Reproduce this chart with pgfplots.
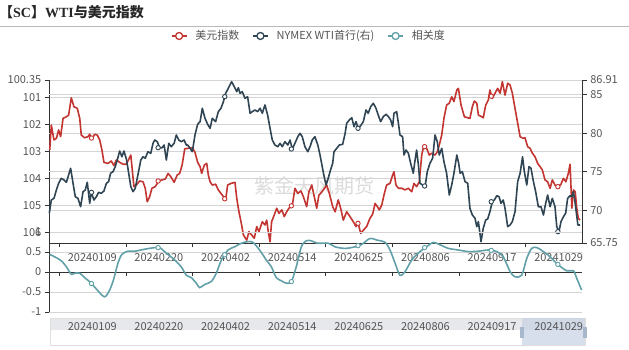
\documentclass[border=0pt]{standalone}
\usepackage{fontspec}
\setmainfont{Noto Sans CJK SC}
\newfontfamily\serifb{Liberation Serif}
\usepackage{pgfplots}
\pgfplotsset{compat=1.18}
\definecolor{cred}{HTML}{C23531}
\definecolor{cdark}{HTML}{2F4554}
\definecolor{cteal}{HTML}{61A0A8}
\definecolor{axisc}{HTML}{333333}
\definecolor{labc}{HTML}{555555}
\definecolor{gridc}{HTML}{D4D4D4}
\definecolor{zoombg}{HTML}{E6E8EC}
\definecolor{zoomsel}{HTML}{C8D2E4}
\definecolor{handlec}{HTML}{A7B7CC}
\pgfplotsset{
  base/.style={scale only axis, width=533pt, xmin=0, xmax=240, clip=false,
    tick label style={font=\fontsize{11}{13}\selectfont, text=labc},
    /pgf/number format/assume math mode=true,
    tick align=outside, major tick length=4.5pt,
    axis line style={axisc, line width=0.8pt},
    every tick/.style={axisc, line width=0.8pt},
    grid style={gridc, line width=0.8pt},
  },
}
\begin{document}
\begin{tikzpicture}
\useasboundingbox (0pt,0pt) rectangle (629pt,350pt);
\node[anchor=west, inner sep=0pt, font=\fontsize{14}{16}\selectfont\bfseries, text=black!85] at (-1pt,337.5pt) {【{\serifb SC}】{\serifb WTI}与美元指数};
\draw[gray!55, line width=0.8pt] (0pt,324pt) -- (629pt,324pt);
\node[text=gray!28, font=\fontsize{20}{22}\selectfont] at (314pt,164pt) {紫金天风期货};
% data zoom slider
\fill[zoombg] (50.7pt,20pt) rectangle (585pt,32pt);
\draw[gray!25, line width=0.8pt] (50.7pt,5pt) rectangle (585pt,32pt);
\fill[zoomsel, opacity=0.7] (521.7pt,5pt) rectangle (585pt,32pt);
\fill[handlec] (519.5pt,11.7pt) rectangle (524pt,23.3pt);
\fill[handlec] (582.5pt,11.7pt) rectangle (587pt,23.3pt);

% ---------- top, left axis: dollar index (reversed) ----------
\begin{axis}[base, at={(49.3pt,107pt)}, anchor=south west, height=163pt,
  y dir=reverse, ymin=100.35, ymax=106.387,
  axis x line*=bottom, x axis line style={draw=none}, xtick=\empty,
  axis y line*=left,
  ytick={100.35,101,102,103,104,105,106}, yticklabels={100.35,101,102,103,104,105,106},
  extra y ticks={100.896,102.322,103.748,105.176}, extra y tick labels={,,,},
  extra y tick style={major tick length=0pt},
  ymajorgrids,
  legend style={at={(0.487,1.27)}, anchor=center, draw=none, fill=none, legend columns=-1,
    font=\fontsize{11}{13}\selectfont, text=labc,
    /tikz/every even column/.append style={column sep=11pt},
    /tikz/every odd column/.append style={column sep=6pt}},
  legend image code/.code={\draw[#1] (0pt,0pt) -- (15pt,0pt); \draw[#1, fill=white] (7.5pt,0pt) circle (3.5pt);},
  ]
\addlegendimage{cred, line width=1.3pt}
\addlegendimage{cdark, line width=1.3pt}
\addlegendimage{cteal, line width=1.3pt}
\addplot[cred, line width=1.6pt, line join=round, forget plot] coordinates {
(0.2,102.94)(0.9,102.02)(2.1,102.57)(3.2,102.51)(4.2,102.20)(5.1,102.45)(6.2,101.77)(7.7,101.71)(8.7,101.65)(9.9,101.01)(11.1,101.34)(12.6,101.40)(13.7,101.77)(14.4,102.39)(15.9,102.49)(17.4,102.45)(18.2,102.36)(19.2,102.54)(20.4,102.36)(21.6,102.39)(22.7,102.57)(23.7,102.94)(24.6,103.40)(26.4,103.44)(27.9,103.35)(29.1,103.52)(30.2,103.31)(31.7,103.40)(33.2,103.47)(34.7,103.47)(36.7,103.13)(38.1,104.30)(39.2,104.24)(40.7,104.09)(42.2,104.12)(43.2,104.36)(44.1,104.86)(45.2,104.67)(46.2,104.36)(47.7,104.30)(49.3,104.09)(50.8,104.05)(52.2,104.02)(53.5,103.81)(54.7,103.93)(56.2,104.14)(57.6,103.87)(58.7,103.81)(59.8,103.50)(61.0,102.90)(62.4,102.88)(64.4,102.86)(65.6,103.03)(66.8,103.40)(67.9,103.56)(68.6,103.81)(69.8,103.50)(70.9,103.44)(71.6,103.87)(72.4,104.12)(73.4,104.24)(74.9,104.21)(76.1,104.42)(77.3,104.55)(78.4,104.67)(79.4,104.79)(80.3,104.24)(81.8,104.18)(83.6,104.14)(84.4,104.73)(85.4,105.23)(86.6,105.72)(87.4,106.09)(88.9,106.28)(89.9,105.97)(91.1,106.09)(92.3,106.21)(93.4,105.78)(94.4,105.97)(95.9,105.60)(97.1,105.72)(97.9,105.54)(98.6,105.97)(99.4,106.34)(100.1,105.60)(101.3,105.35)(102.4,105.10)(103.4,105.29)(104.7,105.16)(105.8,105.41)(106.9,105.23)(107.9,105.10)(109.4,105.01)(110.6,104.36)(111.9,104.55)(113.3,104.46)(114.4,104.67)(115.9,105.04)(116.9,104.49)(118.2,104.24)(119.3,104.67)(120.4,105.10)(121.4,104.61)(122.7,104.50)(123.4,104.42)(124.9,104.24)(126.1,104.55)(127.6,105.04)(128.7,105.23)(130.1,104.79)(131.2,105.10)(132.4,105.54)(133.9,105.23)(135.4,105.41)(136.9,105.60)(138.1,105.78)(139.1,105.66)(140.2,106.03)(141.4,105.91)(142.9,105.78)(144.4,105.47)(145.6,105.32)(146.7,104.92)(147.7,105.04)(148.6,105.16)(149.7,104.98)(150.7,104.61)(151.9,104.24)(153.4,104.18)(154.6,103.87)(155.2,103.75)(156.1,104.24)(157.2,104.36)(158.7,104.36)(160.2,104.42)(161.7,104.36)(163.2,104.49)(164.2,104.18)(165.4,104.30)(166.6,104.12)(167.7,103.13)(168.7,102.76)(169.9,102.88)(171.1,103.13)(172.2,103.06)(173.7,103.13)(174.7,103.01)(175.6,102.76)(176.7,102.39)(177.7,101.77)(178.9,101.28)(180.1,101.21)(181.2,100.97)(182.2,101.15)(183.5,100.72)(184.2,100.66)(185.4,101.28)(186.9,101.71)(188.4,101.75)(189.4,101.77)(190.5,101.34)(191.4,101.13)(192.5,101.21)(193.2,101.65)(194.7,101.71)(195.4,101.75)(196.5,101.28)(197.7,101.09)(198.4,100.72)(199.5,101.03)(200.7,100.84)(201.9,100.66)(203.0,100.84)(204.0,100.41)(205.2,100.91)(206.4,100.47)(207.5,100.54)(208.5,100.84)(209.7,101.40)(210.9,101.95)(212.0,102.45)(213.4,102.51)(214.2,102.49)(215.4,102.82)(216.5,102.88)(217.5,103.06)(218.7,103.19)(219.9,103.44)(221.0,103.56)(222.0,103.68)(223.2,104.05)(224.4,104.12)(225.5,104.36)(226.5,104.05)(227.7,104.24)(229.2,104.30)(230.4,104.21)(231.5,103.99)(232.6,104.12)(233.7,103.81)(234.5,103.47)(235.3,105.10)(236.0,104.42)(236.8,104.49)(237.5,105.10)(238.2,105.47)(239.0,105.54)
};
\addplot[only marks, mark=*, mark size=2.2pt, cred, mark options={fill=white, line width=0.9pt}, forget plot] coordinates {
(19,102.50)(49,104.09)(79,104.75)(109,105.01)(139,105.66)(169,102.82)(199,100.95)(229,104.30)
};
\legend{美元指数,NYMEX WTI首行(右),相关度}
\end{axis}

% ---------- top, right axis: WTI ----------
\begin{axis}[base, at={(49.3pt,107pt)}, anchor=south west, height=163pt,
  ymin=65.75, ymax=86.91, axis y line*=right, axis x line*=bottom,
  xtick={4.5,34.5,64.5,94.5,124.5,154.5,184.5,214.5},
  xticklabels={20240109,20240220,20240402,20240514,20240625,20240806,20240917,20241029},
  xticklabel style={anchor=center, xshift=33pt, yshift=-10.5pt},
  ytick={65.75,70,75,80,85,86.91}, yticklabels={65.75,70,75,80,85,86.91}]
\addplot[cdark, line width=1.6pt, line join=round] coordinates {
(0,69.61)(0.9,71.33)(2.1,71.55)(3.2,72.63)(4.2,73.50)(5.4,74.15)(6.6,73.93)(7.7,73.63)(8.7,74.58)(9.6,75.45)(10.7,73.50)(11.7,71.76)(12.9,71.55)(14.1,70.46)(15.2,72.41)(16.2,72.63)(17.1,73.63)(18.2,70.90)(18.9,72.33)(20.1,71.33)(21.2,71.76)(22.2,72.33)(23.4,72.20)(24.6,72.50)(25.7,73.50)(26.7,73.71)(27.6,74.80)(28.7,75.01)(29.7,75.66)(30.6,76.52)(31.7,77.69)(32.7,76.95)(33.6,77.69)(34.7,76.65)(35.4,75.45)(36.7,73.06)(37.7,72.41)(38.7,72.85)(39.9,74.58)(41.2,76.52)(42.2,76.95)(43.2,76.75)(44.4,77.60)(45.7,77.39)(46.7,78.69)(47.5,79.12)(48.6,78.90)(49.7,78.12)(50.8,78.12)(51.7,78.47)(52.7,76.52)(53.8,78.69)(54.9,78.25)(56.2,78.69)(57.2,79.77)(58.3,79.12)(59.4,78.90)(60.7,79.12)(61.7,78.47)(62.3,78.47)(63.4,78.04)(64.4,77.60)(65.6,79.77)(66.8,81.16)(67.9,81.50)(68.9,83.24)(70.1,81.94)(71.3,81.16)(72.4,80.64)(73.4,81.94)(74.9,81.50)(76.1,82.80)(77.3,83.24)(78.4,84.09)(79.4,85.18)(80.6,85.83)(82.1,86.69)(83.3,86.04)(84.4,85.39)(85.1,85.91)(85.9,85.18)(86.9,85.39)(88.1,84.53)(89.3,84.74)(90.4,82.59)(91.4,82.80)(92.6,83.02)(93.8,82.80)(94.9,83.24)(95.9,82.59)(97.1,83.67)(98.3,82.37)(99.4,80.64)(100.4,79.12)(101.6,78.47)(102.9,78.25)(103.9,78.69)(104.9,78.25)(106.1,78.90)(107.4,78.47)(108.4,79.12)(109.4,77.95)(110.6,78.69)(111.9,79.55)(112.9,79.99)(113.9,79.55)(115.1,78.25)(116.4,77.60)(117.4,78.25)(118.4,79.12)(119.6,79.55)(120.9,78.47)(121.9,77.17)(122.9,75.66)(123.7,74.45)(124.6,73.28)(125.6,74.15)(126.4,75.01)(127.6,76.10)(128.2,77.60)(129.4,78.04)(130.6,78.47)(132.1,78.56)(133.2,79.99)(133.9,81.29)(135.1,81.72)(136.2,82.02)(137.2,80.85)(138.1,81.50)(139.1,80.64)(140.2,80.98)(141.4,81.50)(142.6,83.02)(143.6,82.59)(144.7,83.44)(145.9,83.89)(147.1,83.24)(148.1,82.37)(149.2,81.50)(150.4,82.15)(151.6,82.46)(152.7,82.15)(153.7,81.72)(154.6,80.85)(155.2,82.59)(156.4,82.80)(157.2,81.29)(157.9,79.77)(159.1,79.55)(159.7,77.17)(160.6,77.82)(161.7,77.39)(162.7,76.10)(163.9,74.80)(164.7,76.52)(165.4,77.82)(166.2,75.88)(166.9,73.50)(168.1,73.28)(169.2,73.06)(170.2,75.01)(171.4,76.10)(172.6,76.75)(173.7,79.77)(174.7,78.90)(175.6,77.17)(176.7,78.04)(177.7,76.30)(178.9,74.80)(180.1,71.98)(181.2,73.28)(182.2,74.80)(183.5,77.17)(184.3,76.14)(185.0,74.80)(186.0,75.01)(187.2,73.71)(188.4,73.50)(189.4,70.25)(190.5,69.38)(191.7,68.96)(192.5,67.87)(193.2,68.52)(194.4,65.92)(195.4,67.66)(196.5,68.74)(197.4,68.87)(198.4,69.81)(199.5,71.11)(200.4,71.33)(201.5,71.89)(202.5,71.76)(203.4,70.90)(204.4,71.33)(205.2,70.25)(206.4,67.87)(207.5,68.09)(208.5,68.52)(209.7,69.81)(210.9,73.71)(212.0,74.80)(213.1,76.95)(213.9,75.01)(215.0,73.28)(216.0,75.66)(216.9,75.45)(218.0,73.71)(219.0,72.41)(220.2,70.46)(221.4,70.46)(222.5,69.38)(223.5,70.90)(224.4,71.98)(225.5,70.46)(226.5,71.55)(227.7,70.46)(228.5,67.87)(229.5,67.22)(230.4,68.52)(231.5,69.16)(232.5,69.61)(233.4,71.55)(234.5,71.89)(235.3,71.76)(236.0,72.41)(236.8,70.90)(238.0,68.09)(239.0,68.09)
};
\addplot[only marks, mark=*, mark size=2.2pt, cdark, mark options={fill=white, line width=0.9pt}] coordinates {
(19,72.33)(49,78.12)(79,84.75)(109,77.95)(139,80.64)(169,73.15)(199,71.11)(229,67.22)
};
\end{axis}

% ---------- bottom axis: correlation ----------
\begin{axis}[base, at={(49.3pt,38pt)}, anchor=south west, height=80pt,
  ymin=-1, ymax=1, axis y line*=left, axis x line*=bottom, x axis line style={draw=none},
  xtick={4.5,34.5,64.5,94.5,124.5,154.5,184.5,214.5},
  xticklabels={20240109,20240220,20240402,20240514,20240625,20240806,20240917,20241029},
  xticklabel style={anchor=center, xshift=33pt, yshift=-10pt}, xtick style={draw=none},
  ytick={-1,-0.5,0,0.5,1}, yticklabels={-1,-0.5,0,0.5,1},
  ymajorgrids]
\draw[axisc, line width=0.8pt] (axis cs:0,0) -- (axis cs:240,0);
\pgfplotsinvokeforeach{4.5,34.5,64.5,94.5,124.5,154.5,184.5,214.5}{\draw[axisc, line width=0.8pt] (axis cs:#1,0) -- ++(0pt,-4.5pt);}
\addplot[cteal, line width=1.6pt, smooth, tension=0.5] coordinates {
(0.2,0.44)(2.4,0.38)(5.4,0.28)(7.7,0.13)(9.9,-0.06)(11.4,-0.03)(13.7,-0.03)(15.9,-0.14)(18.9,-0.28)(21.9,-0.47)(24.9,-0.62)(27.2,-0.45)(29.1,-0.16)(30.9,0.22)(32.7,0.44)(35.4,0.52)(38.5,0.52)(43.0,0.57)(47.5,0.61)(49.7,0.61)(52.7,0.47)(56.5,0.30)(59.4,0.13)(61.7,-0.08)(63.9,-0.14)(66.2,-0.28)(67.7,-0.39)(70.0,-0.31)(72.9,-0.24)(75.2,-0.03)(77.5,0.30)(80.5,0.55)(83.5,0.63)(86.5,0.72)(89.5,0.76)(91.7,0.74)(94.7,0.55)(97.7,0.30)(100.0,0.13)(102.2,-0.14)(104.5,-0.22)(106.7,-0.28)(109.0,-0.24)(111.2,0.13)(113.5,0.63)(115.7,0.78)(118.0,0.78)(120.7,0.72)(125.6,0.72)(128.6,0.63)(133.2,0.59)(137.7,0.63)(140.7,0.69)(144.4,0.84)(147.4,0.80)(151.2,0.74)(153.4,0.55)(155.7,0.22)(157.9,-0.08)(160.2,0.01)(163.2,0.30)(166.9,0.51)(169.9,0.63)(172.9,0.74)(175.9,0.68)(179.7,0.59)(184.2,0.55)(188.7,0.51)(193.2,0.52)(197.7,0.55)(201.5,0.51)(204.4,0.38)(207.5,0.01)(209.7,-0.12)(212.7,-0.08)(215.0,0.34)(217.2,0.59)(219.5,0.61)(222.5,0.51)(225.5,0.38)(229.2,0.18)(233.0,0.03)(236.0,0.03)(237.5,-0.16)(239.7,-0.45)
};
\addplot[only marks, mark=*, mark size=2.2pt, cteal, mark options={fill=white, line width=0.9pt}] coordinates {
(19,-0.29)(49,0.61)(79,0.43)(109,-0.24)(139,0.66)(169,0.61)(199,0.54)(229,0.19)
};
\end{axis}
\end{tikzpicture}
\end{document}
